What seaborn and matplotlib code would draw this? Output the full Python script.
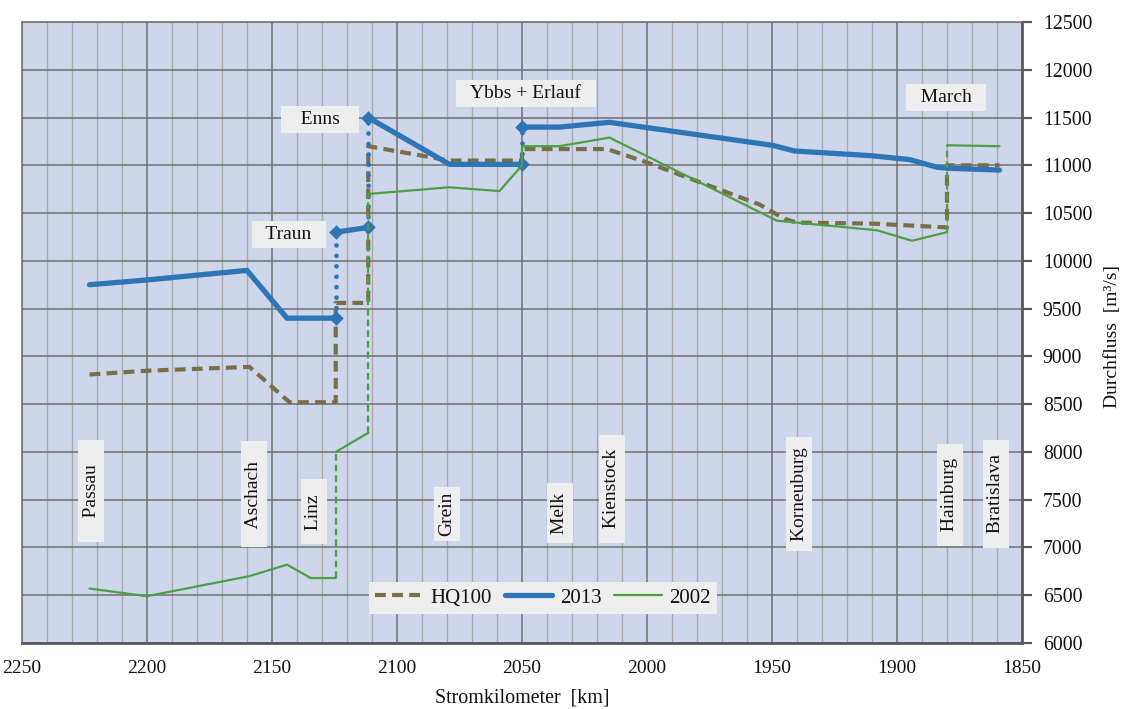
import matplotlib
matplotlib.use("Agg")
import matplotlib.pyplot as plt
import seaborn as sns
import pandas as pd
from matplotlib.lines import Line2D

# ---------------- data ----------------
# HQ100 (one continuous dashed line)
hq_km = [2223, 2200, 2159, 2143, 2124.5, 2124.5, 2111.5, 2111.5, 2079, 2050, 2050,
         2016, 2000, 1955, 1945, 1940, 1910, 1895, 1880, 1880, 1859]
hq_q = [8810, 8850, 8890, 8520, 8520, 9560, 9560, 11200, 11050, 11050, 11170,
        11170, 11030, 10590, 10440, 10400, 10390, 10370, 10350, 11000, 11000]

# 2013 (segments, joined by dotted jumps)
km_2013 = [
    [2223, 2200, 2160, 2144, 2124.5],
    [2124.5, 2111.5],
    [2111.5, 2079, 2050],
    [2050, 2035, 2015, 1950, 1941, 1910, 1895, 1884, 1880, 1859],
]
q_2013 = [
    [9750, 9800, 9900, 9400, 9400],
    [10300, 10350],
    [11500, 11010, 11010],
    [11400, 11400, 11450, 11210, 11150, 11100, 11060, 10980, 10970, 10950],
]

# 2002 (segments, joined by dashed jumps)
km_2002 = [
    [2223, 2200, 2159, 2144, 2134.5, 2124.5],
    [2124.5, 2111.5],
    [2111.5, 2079, 2059, 2050, 2050, 2035, 2015, 1948, 1908, 1894, 1880],
    [1880, 1859],
]
q_2002 = [
    [6570, 6490, 6700, 6820, 6680, 6680],
    [8000, 8200],
    [10700, 10770, 10730, 11000, 11200, 11200, 11290, 10420, 10320, 10210, 10300],
    [11210, 11200],
]

towns = ["Passau", "Aschach", "Linz", "Grein", "Melk", "Kienstock",
         "Korneuburg", "Hainburg", "Bratislava"]
tributaries = ["Traun", "Enns", "Ybbs + Erlauf", "March"]
series_names = ["HQ100", "2013", "2002"]

# ---------------- layout / style ----------------
town_pos = [(2222.4, 7591), (2157.2, 7560), (2133.2, 7372), (2080, 7351), (2034.8, 7361),
            (2014, 7612), (1939.2, 7560), (1878.8, 7550), (1860.4, 7560)]
town_pad = [4, 3, 2, 0, 1, 2, 1, 2, 2]
trib_pos = [(2143.2, 10277), (2130.9, 11479), (2048.4, 11748), (1880.4, 11706)]
trib_pad = [2, 3, 2, 2]

C_HQ = "#7A6E45"
C_13 = "#2E75B6"
C_02 = "#4E9E44"
BG = "#CED6EB"
BOX = "#EEEEEE"
SPINE = "#595959"

sns.set_style("white")
plt.rcParams["font.family"] = ["Liberation Serif", "DejaVu Serif"]
plt.rcParams["text.color"] = "#111111"

fig = plt.figure(figsize=(11.28, 7.09), dpi=100)
ax = fig.add_axes([22 / 1128, 66 / 709, 1000 / 1128, 621 / 709])
ax.set_facecolor(BG)

# HQ100
sns.lineplot(x=hq_km, y=hq_q, ax=ax, sort=False, estimator=None, color=C_HQ,
             lw=3.0, dashes=False, zorder=3).lines[-1].set_dashes((2.6, 1.5))

# 2013 segments + dotted jumps + diamond markers
for i in range(len(km_2013)):
    sns.lineplot(x=km_2013[i], y=q_2013[i], ax=ax, sort=False, estimator=None,
                 color=C_13, lw=3.8, zorder=4)
    if i + 1 < len(km_2013):
        jx = [km_2013[i][-1], km_2013[i + 1][0]]
        jy = [q_2013[i][-1], q_2013[i + 1][0]]
        ln = sns.lineplot(x=jx, y=jy, ax=ax, sort=False, estimator=None,
                          color=C_13, lw=3.4, zorder=4).lines[-1]
        ln.set_linestyle((0, (0.01, 2.2)))
        ln.set_dash_capstyle("round")
        sns.scatterplot(x=jx, y=jy, ax=ax, color=C_13, marker="D", s=55,
                        edgecolor=C_13, linewidth=0, zorder=5)

# 2002 segments + dashed jumps
for i in range(len(km_2002)):
    sns.lineplot(x=km_2002[i], y=q_2002[i], ax=ax, sort=False, estimator=None,
                 color=C_02, lw=1.6, zorder=6)
    if i + 1 < len(km_2002):
        jx = [km_2002[i][-1], km_2002[i + 1][0]]
        jy = [q_2002[i][-1], q_2002[i + 1][0]]
        ln = sns.lineplot(x=jx, y=jy, ax=ax, sort=False, estimator=None,
                          color=C_02, lw=1.6, zorder=6).lines[-1]
        ln.set_linestyle((0, (3, 1.8)))

# axes
ax.set_xlim(2250, 1850)
ax.set_ylim(6000, 12500)
ax.set_xticks(range(1850, 2251, 50))
ax.set_xticks(range(1850, 2251, 10), minor=True)
ax.set_yticks(range(6000, 12501, 500))
ax.yaxis.tick_right()
ax.grid(which="major", color="#6f6f6f", lw=1.1, zorder=0)
ax.grid(which="minor", axis="x", color="#a9a9a9", lw=1.0, zorder=0)
ax.set_axisbelow(True)
ax.tick_params(axis="x", which="major", direction="out", length=7, width=1.6,
               color=SPINE, labelsize=14, pad=5, labelcolor="#111111")
ax.tick_params(axis="x", which="minor", length=0)
ax.tick_params(axis="y", which="major", direction="out", length=7, width=1.6,
               color=SPINE, labelsize=14.2, pad=8, labelcolor="#111111",
               left=False, right=True)
for s in ["bottom", "right"]:
    ax.spines[s].set_color(SPINE)
    ax.spines[s].set_linewidth(2)
for s in ["top", "left"]:
    ax.spines[s].set_color("#6f6f6f")
    ax.spines[s].set_linewidth(1.1)
ax.set_xlabel("")
ax.set_ylabel("")

ax.text(0.5, -0.0886, "Stromkilometer  [km]", transform=ax.transAxes,
        ha="center", va="center", fontsize=14.4)
ax.text(1.09, 0.493, "Durchfluss  [m³/s]", transform=ax.transAxes,
        ha="center", va="center", rotation=90, fontsize=14)

# labels
for name, (x, y), p in zip(towns, town_pos, town_pad):
    ax.text(x, y, " " * p + name + " " * p, rotation=90, ha="center", va="center",
            fontsize=14, zorder=7,
            bbox=dict(boxstyle="square,pad=0.25", facecolor=BOX, edgecolor="none"))
for name, (x, y), p in zip(tributaries, trib_pos, trib_pad):
    ax.text(x, y, " " * p + name + " " * p, ha="center", va="center",
            fontsize=14, zorder=7,
            bbox=dict(boxstyle="square,pad=0.25", facecolor=BOX, edgecolor="none"))

# legend
handles = [
    Line2D([], [], color=C_HQ, lw=3.0, dashes=(2.6, 1.5)),
    Line2D([], [], color=C_13, lw=3.8),
    Line2D([], [], color=C_02, lw=1.6),
]
leg = ax.legend(handles, series_names, loc="center", bbox_to_anchor=(0.521, 0.0725),
                ncol=3, frameon=True, fancybox=False, facecolor=BOX, edgecolor="none",
                framealpha=1, fontsize=15, handlelength=2.3, columnspacing=0.6,
                handletextpad=0.35, borderpad=0.3)
leg.set_zorder(8)

fig.savefig("out.png", dpi=100, facecolor="white")
